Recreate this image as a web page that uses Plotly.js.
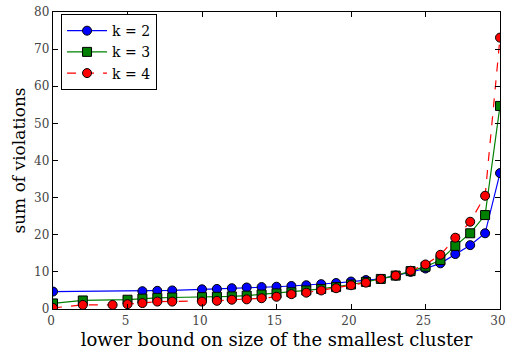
<!DOCTYPE html>
<html>
<head>
<meta charset="utf-8">
<script src="https://cdn.plot.ly/plotly-3.0.1.min.js"></script>
<style>html,body{margin:0;padding:0;background:#fff;}#chart{width:506px;height:356px;}</style>
</head>
<body>
<div id="chart"></div>
<script>
const xK2 = [0, 6, 7, 8, 10, 11, 12, 13, 14, 15, 16, 17, 18, 19, 20, 21, 22, 23, 24, 25, 26, 27, 28, 29, 30];
const yK2 = [4.7, 4.8, 4.9, 5.0, 5.3, 5.4, 5.6, 5.8, 5.9, 6.0, 6.2, 6.4, 6.7, 7.0, 7.4, 7.8, 8.1, 9.0, 10.0, 10.9, 12.3, 14.8, 17.2, 20.4, 36.6];
const xK3 = [0, 2, 5, 6, 7, 8, 10, 11, 12, 13, 14, 15, 16, 17, 18, 19, 20, 21, 22, 23, 24, 25, 26, 27, 28, 29, 30];
const yK3 = [1.5, 2.3, 2.5, 2.8, 3.0, 3.1, 3.2, 3.3, 3.4, 3.6, 3.9, 4.2, 4.5, 5.0, 5.4, 5.9, 6.6, 7.3, 8.1, 9.0, 10.2, 11.4, 13.2, 17.0, 20.4, 25.3, 54.7];
const xK4 = [0, 2, 4, 5, 6, 7, 8, 10, 11, 12, 13, 14, 15, 16, 17, 18, 19, 20, 21, 22, 23, 24, 25, 26, 27, 28, 29, 30];
const yK4 = [0.3, 1.1, 1.1, 1.3, 1.6, 2.0, 2.0, 2.0, 2.2, 2.5, 2.6, 2.9, 3.3, 4.0, 4.4, 5.0, 5.6, 6.4, 7.1, 8.1, 9.0, 10.3, 12.0, 14.6, 19.2, 23.5, 30.5, 73.1];
const seriesNames = ["k = 2", "k = 3", "k = 4"];
const xTicks = [0, 5, 10, 15, 20, 25, 30];
const yTicks = [0, 10, 20, 30, 40, 50, 60, 70, 80];

const font = "DejaVu Serif, serif";
const mk = (sym, col) => ({symbol: sym, size: 9, color: col, line: {color: "#000", width: 1}});
const traces = [
  {x: xK2, y: yK2, name: seriesNames[0], mode: "lines+markers", line: {color: "#0000ff", width: 1.2}, marker: mk("circle", "#0000ff")},
  {x: xK3, y: yK3, name: seriesNames[1], mode: "lines+markers", line: {color: "#008000", width: 1.2}, marker: mk("square", "#008000")},
  {x: xK4, y: yK4, name: seriesNames[2], mode: "lines+markers", line: {color: "#ff0000", width: 1.2, dash: "dash"}, marker: mk("circle", "#ff0000")}
];
const axisCommon = {
  showgrid: false, zeroline: false, showline: true, linecolor: "#000", linewidth: 1.2,
  mirror: "ticks", ticks: "inside", ticklen: 5, tickcolor: "#000", tickwidth: 1,
  ticklabeloverflow: "allow",
  tickfont: {family: font, size: 12, color: "#444"}
};
const layout = {
  width: 506, height: 356,
  margin: {l: 53, r: 6, t: 12, b: 47},
  paper_bgcolor: "#fff", plot_bgcolor: "#fff",
  xaxis: Object.assign({}, axisCommon, {range: [0, 30], tickmode: "array", tickvals: xTicks, ticklabelshift: -2,
    title: {text: "lower bound on size of the smallest cluster", font: {family: font, size: 18, color: "#000"}, standoff: 6}}),
  yaxis: Object.assign({}, axisCommon, {range: [0, 80], tickmode: "array", tickvals: yTicks,
    title: {text: "sum of violations", font: {family: font, size: 17, color: "#000"}, standoff: 4}}),
  legend: {x: 0.018, y: 0.993, xanchor: "left", yanchor: "top", bgcolor: "#fff", bordercolor: "#000", borderwidth: 1,
    font: {family: font, size: 14, color: "#000"}, itemwidth: 40, tracegroupgap: 2},
  showlegend: true
};
Plotly.newPlot("chart", traces, layout, {staticPlot: true, displayModeBar: false});
</script>
</body>
</html>
